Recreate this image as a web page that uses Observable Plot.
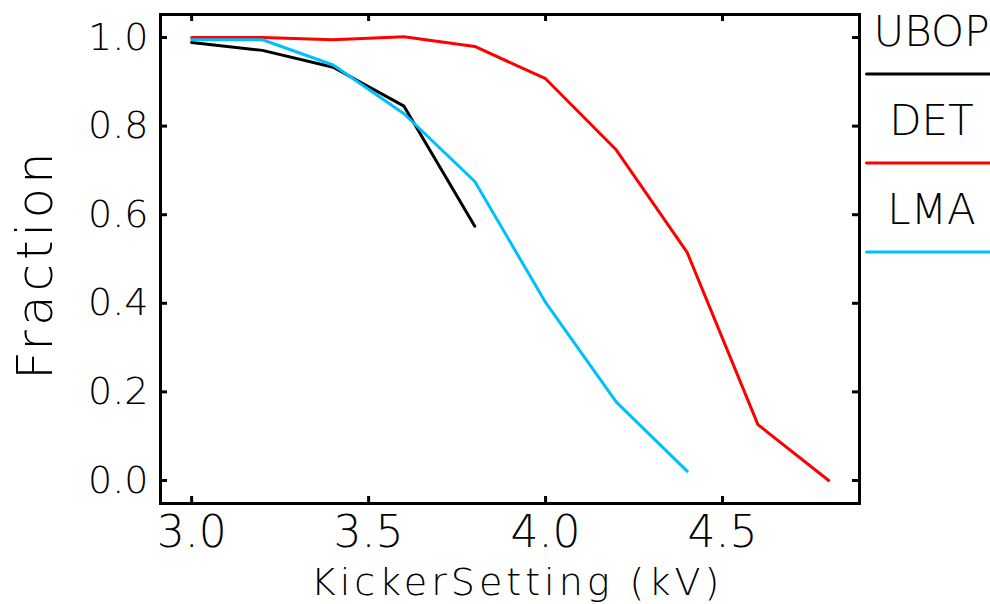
<!DOCTYPE html>
<html>
<head>
<meta charset="utf-8">
<script src="https://cdn.jsdelivr.net/npm/d3@7"></script>
<script src="https://cdn.jsdelivr.net/npm/@observablehq/plot@0.6"></script>
<style>
  html, body { margin: 0; padding: 0; background: #fff; overflow: hidden; }
  #chart svg { display: block; }
</style>
</head>
<body>
<div id="chart"></div>
<script>
// ---- data ----
const kv = [3.0, 3.2, 3.4, 3.6, 3.8, 4.0, 4.2, 4.4, 4.6, 4.8];
const ubop = [0.989, 0.971, 0.933, 0.845, 0.574];
const det = [1.0, 1.0, 0.995, 1.002, 0.980, 0.907, 0.746, 0.515, 0.126, 0.0];
const lma = [0.995, 0.995, 0.938, 0.828, 0.675, 0.402, 0.177, 0.021];
const seriesNames = ["UBOP", "DET", "LMA"];
const seriesColors = ["#000000", "#ff0000", "#00bfff"];
const xTicks = [3.0, 3.5, 4.0, 4.5];
const yTicks = [0.0, 0.2, 0.4, 0.6, 0.8, 1.0];
const xTitle = "KickerSetting (kV)";
const yTitle = "Fraction";

// ---- build rows ----
const seriesValues = [ubop, det, lma];
const rows = [];
seriesValues.forEach((vals, s) => {
  vals.forEach((v, i) => rows.push({series: seriesNames[s], kv: kv[i], frac: v}));
});

const FONT = "'DejaVu Sans', sans-serif";
const W = 990, H = 604;
const mL = 160, mR = 131, mT = 14, mB = 101;
const plotW = W - mL - mR, plotH = H - mT - mB;
const tickLen = 7;

const marks = [];
// lines
seriesNames.forEach((name, s) => {
  marks.push(Plot.line(rows.filter(r => r.series === name), {
    x: "kv", y: "frac", stroke: seriesColors[s], strokeWidth: 3, strokeLinejoin: "miter"
  }));
});
// frame
marks.push(Plot.frame({stroke: "#000", strokeWidth: 3}));
// inward ticks on all four sides
marks.push(Plot.tickX(xTicks, {x: d => d, stroke: "#000", strokeWidth: 3, insetTop: plotH - tickLen}));
marks.push(Plot.tickX(xTicks, {x: d => d, stroke: "#000", strokeWidth: 3, insetBottom: plotH - tickLen}));
marks.push(Plot.tickY(yTicks, {y: d => d, stroke: "#000", strokeWidth: 3, insetRight: plotW - tickLen}));
marks.push(Plot.tickY(yTicks, {y: d => d, stroke: "#000", strokeWidth: 3, insetLeft: plotW - tickLen}));
// tick labels
marks.push(Plot.text(xTicks, {x: d => d, frameAnchor: "bottom", dy: 12, lineAnchor: "top",
  text: d => d.toFixed(1), fontSize: 44, fontFamily: FONT, fontWeight: 200, fill: "#000"}));
marks.push(Plot.text(yTicks, {y: d => d, frameAnchor: "left", dx: -12, textAnchor: "end", lineAnchor: "middle",
  text: d => d.toFixed(1), fontSize: 38, fontFamily: FONT, fontWeight: 200, fill: "#000"}));
// axis titles
marks.push(Plot.text([xTitle], {frameAnchor: "bottom", dy: 65, dx: 7, lineAnchor: "top", textAnchor: "middle",
  text: d => d, fontSize: 38, fontFamily: FONT, fontWeight: 200, fill: "#000"}));
marks.push(Plot.text([yTitle], {frameAnchor: "left", dx: -125, dy: 5, rotate: -90,
  textAnchor: "middle", lineAnchor: "middle",
  text: d => d, fontSize: 50, fontFamily: FONT, fontWeight: 200, fill: "#000"}));
// legend (outside the frame, on the right)
const lineShape = {draw(context, l) { context.moveTo(0, 0); context.lineTo(0, -l); }};
seriesNames.forEach((name, s) => {
  marks.push(Plot.text([name], {frameAnchor: "top-right", dx: 72, dy: 18 + s * 89,
    text: d => d, textAnchor: "middle", lineAnchor: "middle",
    fontSize: 42, fontFamily: FONT, fontWeight: 200, fill: "#000"}));
  marks.push(Plot.vector([name], {frameAnchor: "top-right", dx: 7, dy: 59.5 + s * 89,
    rotate: 90, length: 160, anchor: "start", shape: lineShape,
    stroke: seriesColors[s], strokeWidth: 3}));
});

const chart = Plot.plot({
  width: W, height: H,
  marginLeft: mL, marginRight: mR, marginTop: mT, marginBottom: mB,
  x: {domain: [2.912, 4.887], axis: null},
  y: {domain: [-0.052, 1.052], axis: null},
  style: {fontFamily: FONT, background: "#fff", overflow: "visible"},
  marks
});
// letter-spacing for the titles to match the wide stroke font
d3.select(chart).selectAll("text").filter(function() { return this.textContent === yTitle; })
  .style("letter-spacing", "4px");
d3.select(chart).selectAll("text").filter(function() { return this.textContent === xTitle; })
  .style("letter-spacing", "4px");
document.getElementById("chart").appendChild(chart);
</script>
</body>
</html>
